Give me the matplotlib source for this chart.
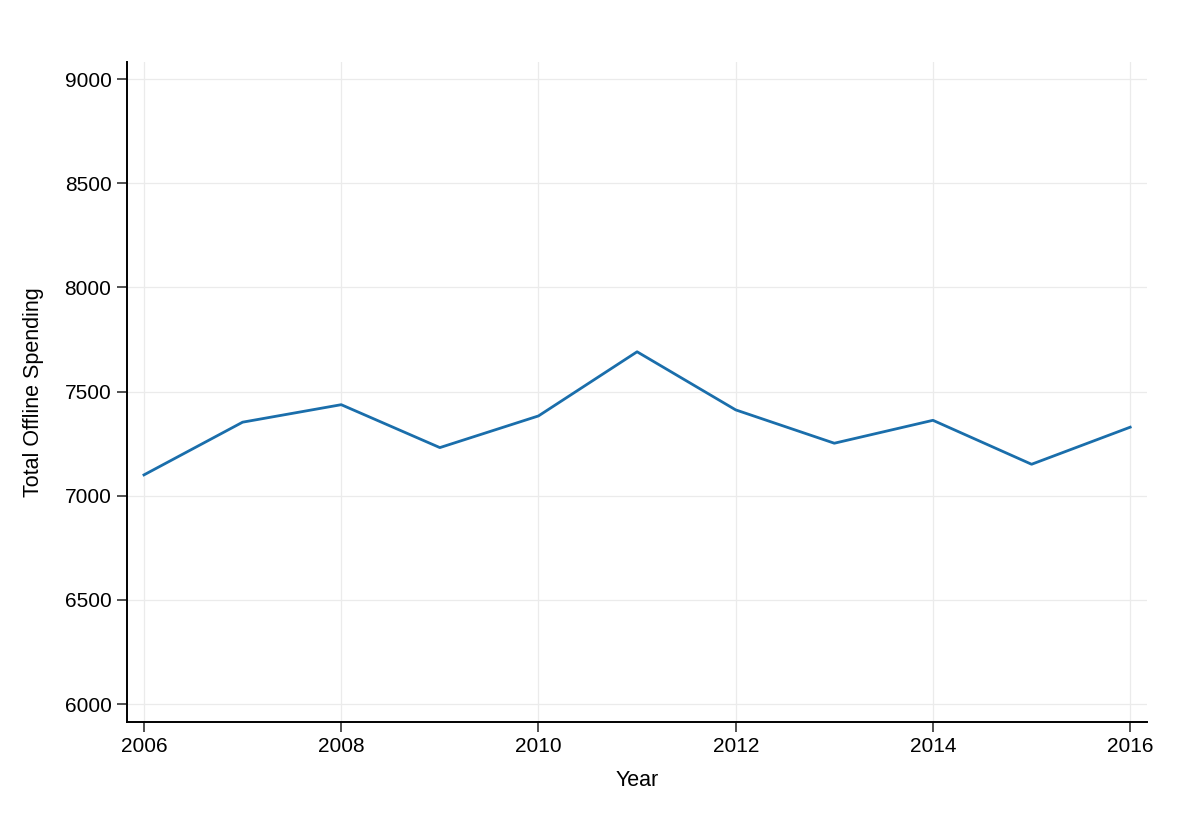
import matplotlib
matplotlib.use("Agg")
import matplotlib.pyplot as plt

years = [2006, 2007, 2008, 2009, 2010, 2011, 2012, 2013, 2014, 2015, 2016]
spending = [7100, 7353, 7437, 7231, 7383, 7691, 7412, 7252, 7362, 7151, 7329]
x_ticks = [2006, 2008, 2010, 2012, 2014, 2016]
y_ticks = [6000, 6500, 7000, 7500, 8000, 8500, 9000]

plt.rcParams['font.family'] = ['Liberation Sans', 'DejaVu Sans']

fig = plt.figure(figsize=(12, 8.17), dpi=100)
ax = fig.add_axes([0.1056, 0.1166, 0.8502, 0.8075])

ax.plot(years, spending, color='#1a6eab', linewidth=2)

ax.set_xlim(2005.825, 2016.17)
ax.set_ylim(5915, 9082)
ax.set_xticks(x_ticks)
ax.set_yticks(y_ticks)
ax.grid(True, color='#ebebeb', linewidth=0.9)
ax.set_axisbelow(True)

for s in ['top', 'right']:
    ax.spines[s].set_visible(False)
for s in ['left', 'bottom']:
    ax.spines[s].set_linewidth(1.4)
    ax.spines[s].set_color('black')

ax.tick_params(axis='both', labelsize=15, length=7, width=1.2, color='#333333', direction='out', pad=4)
ax.set_xlabel('Year', fontsize=15.5, labelpad=10)
ax.set_ylabel('Total Offline Spending', fontsize=15.5, labelpad=15)

fig.savefig('out.png', dpi=100)
